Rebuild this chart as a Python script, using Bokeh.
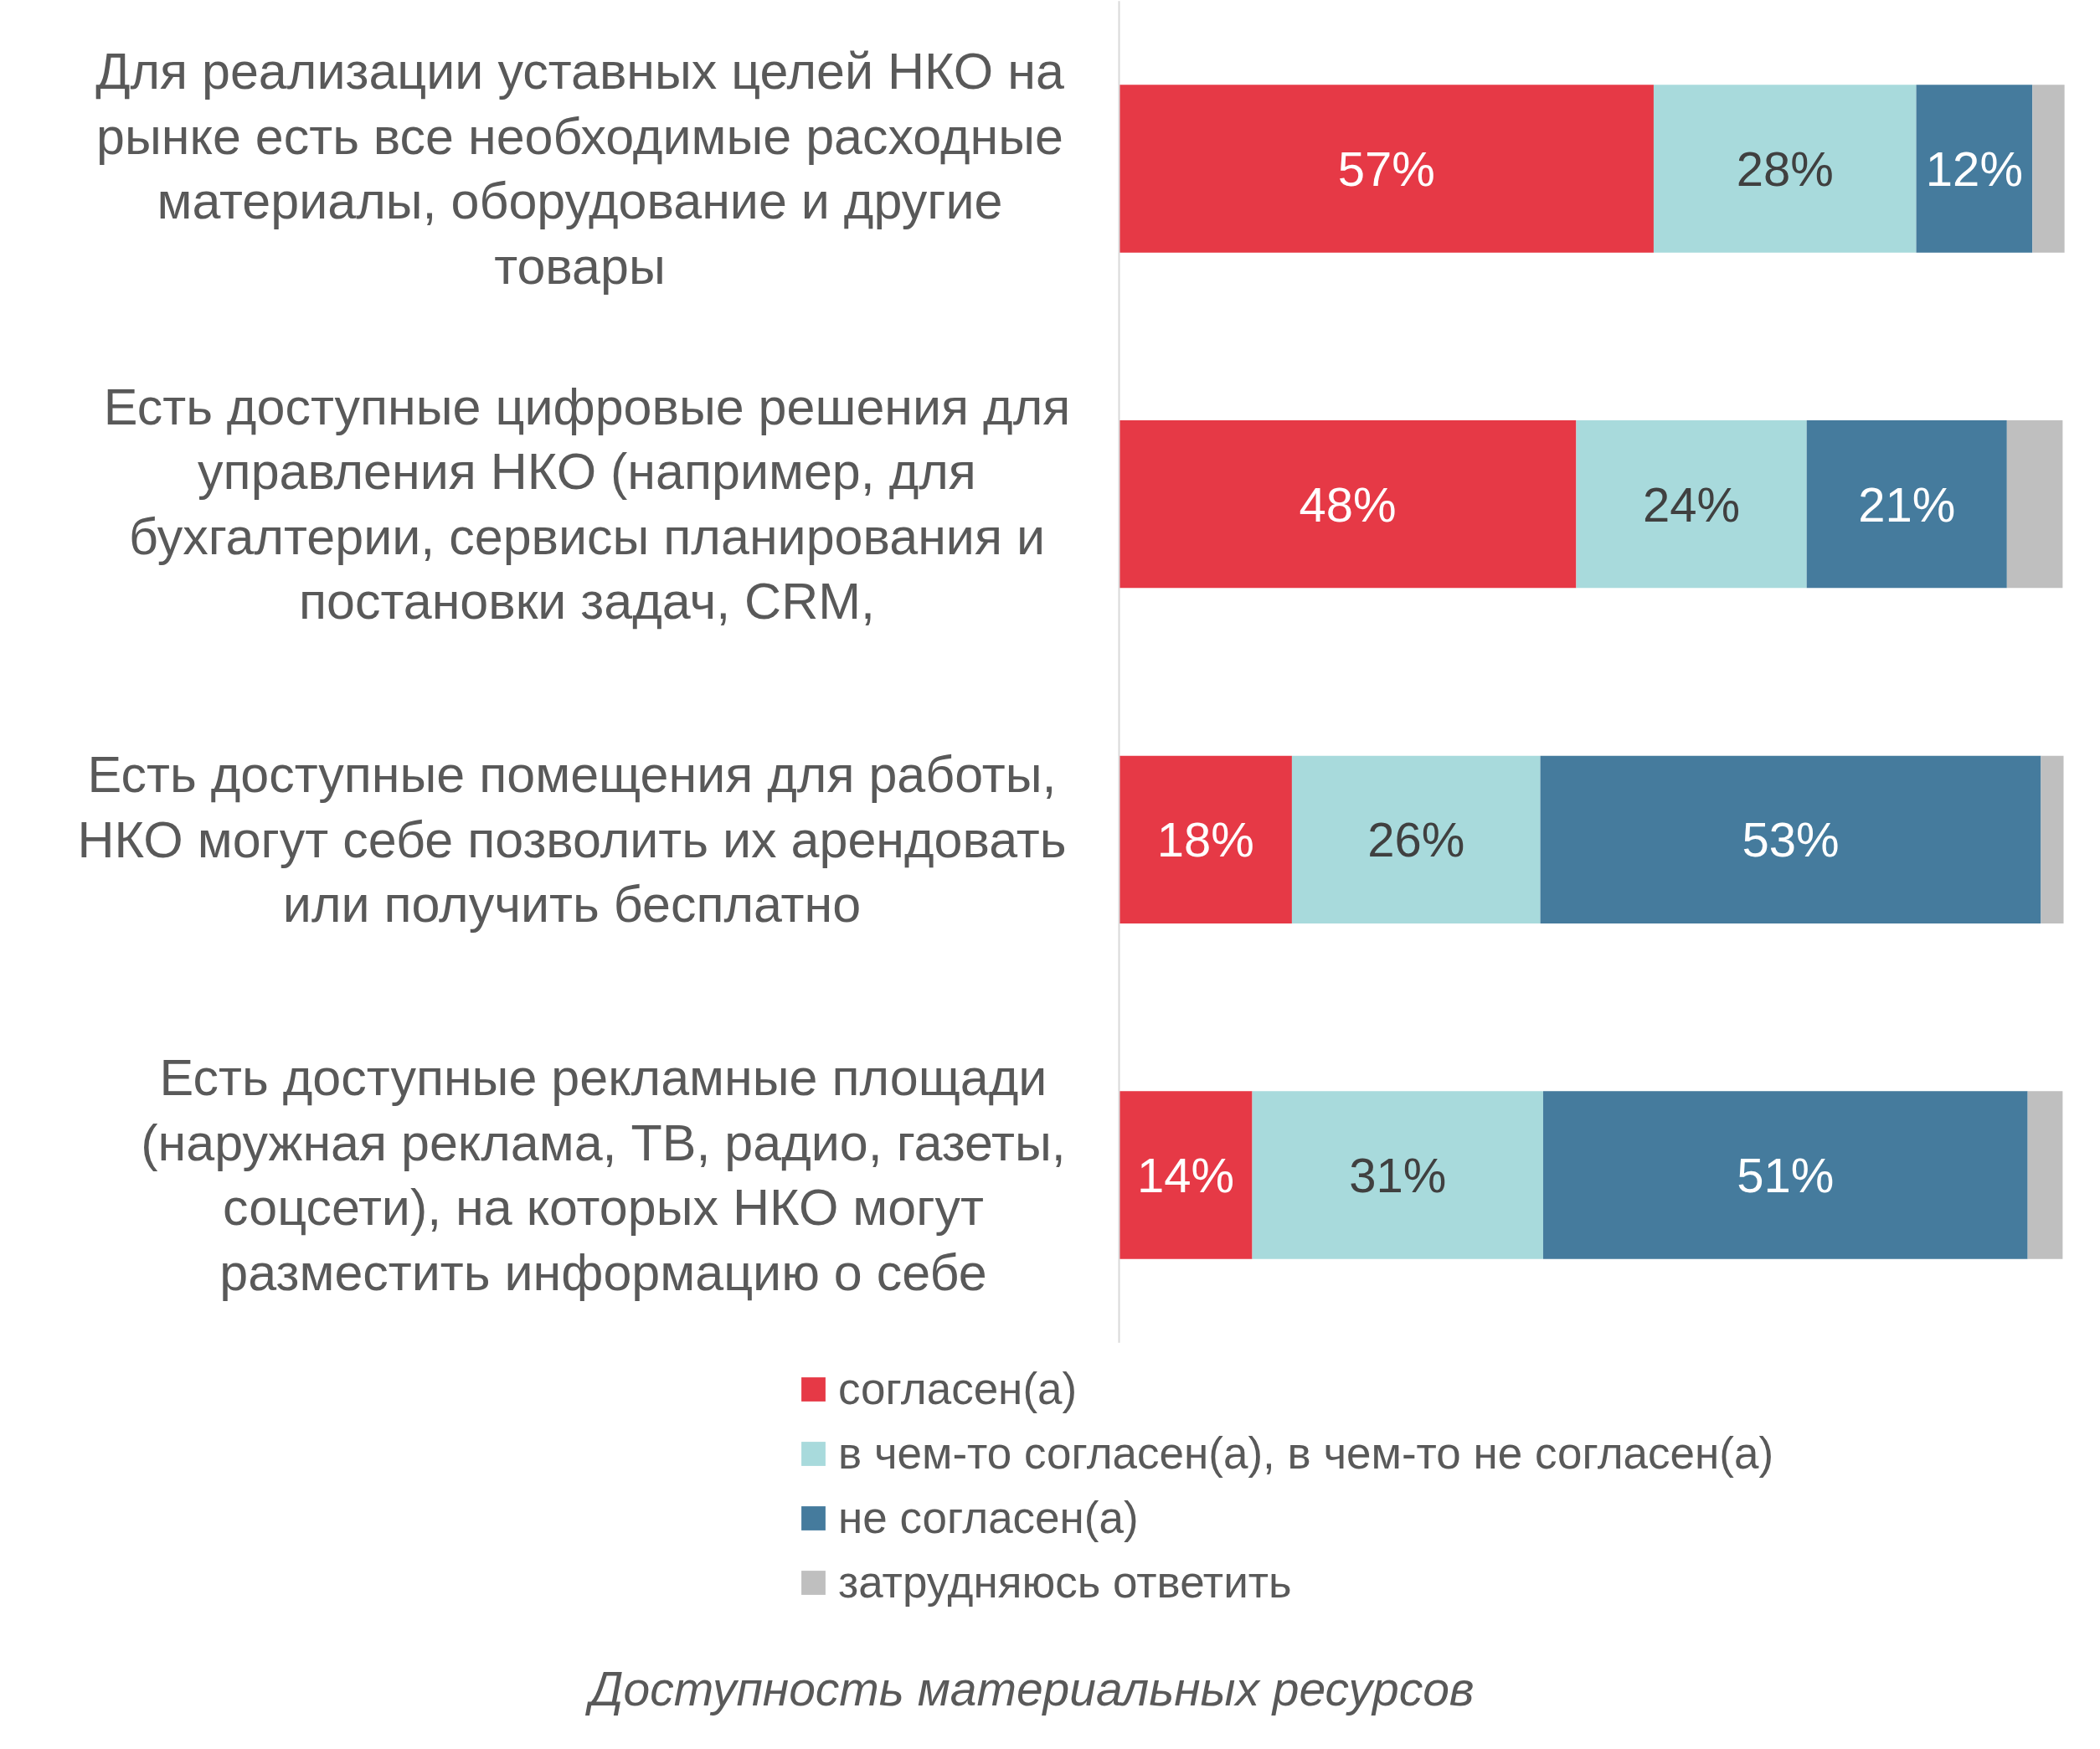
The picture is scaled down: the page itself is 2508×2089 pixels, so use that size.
from bokeh.plotting import figure
from bokeh.models import ColumnDataSource, Range1d, Legend, LegendItem
from bokeh.core.properties import value
from bokeh.embed import file_html
from bokeh.resources import INLINE

# ---------------- data ----------------
statements = [
    "Для реализации уставных целей НКО на\nрынке есть все необходимые расходные\nматериалы, оборудование и другие\nтовары",
    "Есть доступные цифровые решения для\nуправления НКО (например, для\nбухгалтерии, сервисы планирования и\nпостановки задач, CRM,",
    "Есть доступные помещения для работы,\nНКО могут себе позволить их арендовать\nили получить бесплатно",
    "Есть доступные рекламные площади\n(наружная реклама, ТВ, радио, газеты,\nсоцсети), на которых НКО могут\nразместить информацию о себе",
]
series_names = [
    "согласен(а)",
    "в чем-то согласен(а), в чем-то не согласен(а)",
    "не согласен(а)",
    "затрудняюсь ответить",
]
agree = [56.6, 48.4, 18.3, 14.1]
partly = [27.8, 24.4, 26.3, 30.8]
disagree = [12.3, 21.2, 53.0, 51.3]
unsure = [3.4, 5.9, 2.4, 3.7]
chart_title = "Доступность материальных ресурсов"

# ---------------- style / layout ----------------
COLORS = ["#E63946", "#A8DADC", "#457B9D", "#BFBFBF"]
LABEL_COLORS = ["#FFFFFF", "#404040", "#FFFFFF"]
TEXT = "#595959"
FONT = "Liberation Sans"
W, H = 2492, 2073
X0 = 1336.0          # canvas px of 0 %
PXPCT = 11.28        # px per 1 %
Y0 = 201.0           # canvas px of first row centre
ROW = 400.67         # px between rows


def xd(cx):
    return (cx - X0) / PXPCT


def yd(cy):
    return -(cy - Y0) / ROW


p = figure(width=W, height=H, output_backend="svg", toolbar_location=None,
           x_axis_type=None, y_axis_type=None, min_border=0,
           x_range=Range1d(xd(0), xd(W)), y_range=Range1d(yd(H), yd(0)))
p.outline_line_color = None
p.background_fill_color = "white"
p.border_fill_color = "white"

rows = [-float(i) for i in range(len(statements))]
src = ColumnDataSource(dict(y=rows, agree=agree, partly=partly,
                            disagree=disagree, unsure=unsure))
keys = ["agree", "partly", "disagree", "unsure"]
rends = p.hbar_stack(keys, y="y", height=0.5, fill_color=COLORS,
                     line_color=None, source=src)

# value labels inside segments
cols = [agree, partly, disagree]
for k, vals in enumerate(cols):
    xs, ys, ts = [], [], []
    for i, v in enumerate(vals):
        left = sum(c[i] for c in cols[:k])
        xs.append(left + v / 2)
        ys.append(rows[i])
        ts.append(f"{round(v)}%")
    p.text(x=xs, y=ys, text=ts, text_align="center", text_baseline="middle",
           text_font=value(FONT), text_font_size="58px", text_color=LABEL_COLORS[k])

# category labels (multi-line, centred)
label_centers = [692, 700.5, 682.5, 720]
p.text(x=[xd(c) for c in label_centers], y=rows, text=statements,
       text_align="center", text_baseline="middle", text_font=value(FONT),
       text_font_size="61px", text_color=TEXT, text_line_height=1.14)

# vertical axis line
p.segment(x0=[0], y0=[0.5], x1=[0], y1=[-3.5], line_color="#D9D9D9", line_width=2)

# title below
p.text(x=[xd(1232)], y=[yd(2016)], text=[chart_title], text_align="center",
       text_baseline="middle", text_font=value(FONT), text_font_size="57px",
       text_font_style="italic", text_color=TEXT)

legend = Legend(items=[LegendItem(label=n, renderers=[r]) for n, r in zip(series_names, rends)],
                location=(953, 145), orientation="vertical",
                glyph_width=36, glyph_height=36, label_height=77, spacing=0,
                label_standoff=12, padding=0, margin=0,
                label_text_font=FONT, label_text_font_size="53px",
                label_text_color=TEXT, border_line_alpha=0,
                background_fill_alpha=0)
p.add_layout(legend, "center")

open("out.html", "w").write(file_html(p, INLINE))
